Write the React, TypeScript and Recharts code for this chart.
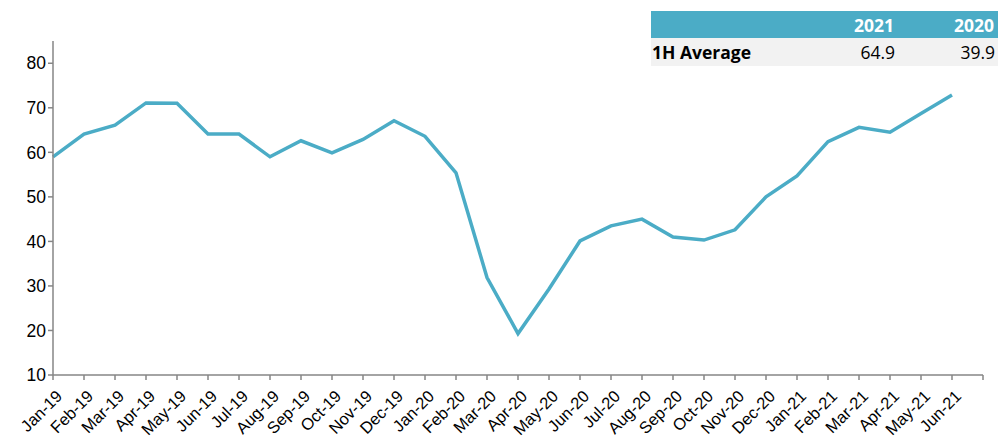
import { LineChart, Line, XAxis, YAxis } from 'recharts';

const months = [
  'Jan-19', 'Feb-19', 'Mar-19', 'Apr-19', 'May-19', 'Jun-19', 'Jul-19', 'Aug-19', 'Sep-19', 'Oct-19',
  'Nov-19', 'Dec-19', 'Jan-20', 'Feb-20', 'Mar-20', 'Apr-20', 'May-20', 'Jun-20', 'Jul-20', 'Aug-20',
  'Sep-20', 'Oct-20', 'Nov-20', 'Dec-20', 'Jan-21', 'Feb-21', 'Mar-21', 'Apr-21', 'May-21', 'Jun-21', '',
];

const values = [
  59.0, 64.1, 66.1, 71.1, 71.0, 64.1, 64.1, 59.0, 62.6, 59.9,
  62.9, 67.1, 63.6, 55.4, 31.9, 19.3, 29.3, 40.1, 43.5, 45.0,
  41.0, 40.3, 42.6, 50.0, 54.7, 62.4, 65.6, 64.5, 68.7, 72.9, null,
];

const yTicks = [10, 20, 30, 40, 50, 60, 70, 80];

const tableYears = ['2021', '2020'];
const tableAverages = ['64.9', '39.9'];

const data = months.map((m, i) => ({ month: m, value: values[i] }));

const LINE = '#4BACC6';
const AXIS = '#868686';

export default function App() {
  return (
    <div style={{ position: 'absolute', left: 0, top: 0, width: 998, height: 438, overflow: 'hidden', background: '#fff' }}>
      <LineChart
        width={998}
        height={438}
        data={data}
        margin={{ top: 41, right: 15, bottom: 0, left: 0 }}
      >
        <XAxis
          dataKey="month"
          interval={0}
          height={63}
          padding={{ left: 0, right: 0 }}
          axisLine={{ stroke: AXIS, strokeWidth: 1.5 }}
          tickLine={{ stroke: AXIS, strokeWidth: 1.5 }}
          tickSize={5}
          angle={-45}
          textAnchor="end"
          dx={2}
          dy={7}
          tick={{ fontFamily: 'Liberation Sans, Arial', fontSize: 16.5, fill: '#000' }}
        />
        <YAxis
          domain={[10, 85]}
          ticks={yTicks}
          width={53}
          allowDataOverflow
          axisLine={{ stroke: AXIS, strokeWidth: 1.5 }}
          tickLine={{ stroke: AXIS, strokeWidth: 1.5 }}
          tickSize={5}
          tick={{ fontFamily: 'Liberation Sans, Arial', fontSize: 17.5, fill: '#000' }}
        />
        <Line
          type="linear"
          dataKey="value"
          stroke={LINE}
          strokeWidth={3.5}
          dot={false}
          isAnimationActive={false}
        />
      </LineChart>
      <div
        style={{
          position: 'absolute',
          left: 651,
          top: 11,
          width: 347,
          fontFamily: '"Open Sans", "Noto Sans", sans-serif',
          fontSize: 17.5,
        }}
      >
        <div style={{ display: 'flex', height: 27, background: '#4BACC6', color: '#fff', fontWeight: 700, alignItems: 'center' }}>
          <div style={{ width: 146 }} />
          {tableYears.map((y) => (
            <div key={y} style={{ width: 100, textAlign: 'right', paddingRight: 3, boxSizing: 'border-box' }}>{y}</div>
          ))}
        </div>
        <div style={{ display: 'flex', height: 28, background: '#F2F2F2', color: '#000', alignItems: 'center' }}>
          <div style={{ width: 146, fontWeight: 700, paddingLeft: 1 }}>1H Average</div>
          {tableAverages.map((v, i) => (
            <div key={i} style={{ width: 100, textAlign: 'right', paddingRight: 3, boxSizing: 'border-box' }}>{v}</div>
          ))}
        </div>
      </div>
    </div>
  );
}
